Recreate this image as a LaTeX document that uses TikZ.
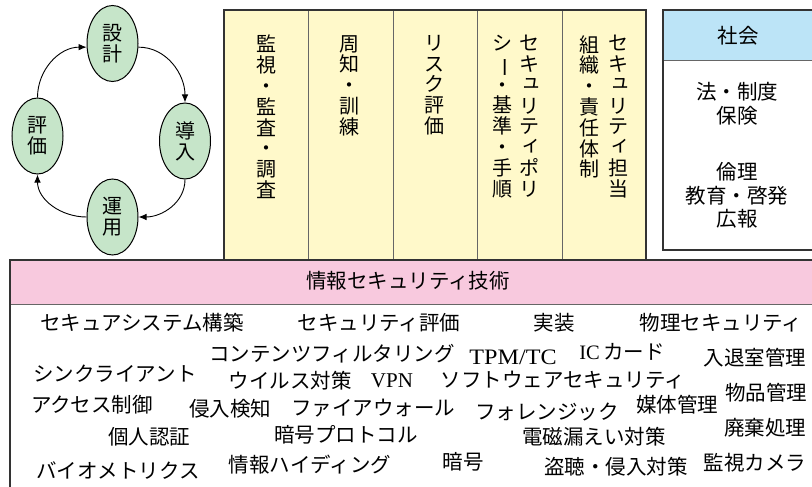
\documentclass[tikz,border=0pt]{standalone}
\usepackage{fontspec}
\setmainfont{Noto Sans CJK JP}
\newfontfamily\lat{Liberation Serif}
\usetikzlibrary{shapes.geometric,arrows.meta}
\definecolor{cyel}{HTML}{FFF9CA}
\definecolor{cblue}{HTML}{BCE4F7}
\definecolor{cpink}{HTML}{F8C9DE}
\definecolor{cgreen}{HTML}{C6E5C9}
\definecolor{cline}{HTML}{333333}
\newcommand\skv[1]{\raisebox{0.17em}{\hspace*{0.12em}#1\hspace*{-0.12em}}}
\newcommand\vbar{\rotatebox[origin=c]{-90}{ー}}
\tikzset{
  cyc/.style={ellipse, draw=black, line width=1pt, fill=cgreen, minimum width=51pt,
    minimum height=76pt, inner sep=0pt, align=center, font=\fontsize{20}{21}\selectfont},
  vt/.style={anchor=north, align=center, inner sep=0pt, font=\fontsize{20}{20.8}\selectfont},
  bt/.style={inner sep=0pt, font=\fontsize{20.5}{22}\selectfont},
  lt/.style={inner sep=0pt, font=\fontsize{21}{22}\selectfont\lat},
  arr/.style={-{Latex[length=8pt,width=6.5pt]}, line width=0.9pt},
  frame/.style={draw=cline, line width=1.3pt},
  divider/.style={draw=black!60, line width=0.9pt}
}
\begin{document}
\begin{tikzpicture}[x=1pt,y=1pt]
\useasboundingbox (0,0) rectangle (812,-487);
% cycle
\node[cyc] (sekkei) at (112.5,-43.5) {設\\計};
\node[cyc] (dounyu) at (185,-141) {導\\入};
\node[cyc] (unyou) at (112.5,-217) {運\\用};
\node[cyc] (hyouka) at (37.5,-136) {評\\価};
\draw[arr] (sekkei.-8) to[out=0,in=90] (dounyu.north);
\draw[arr] (dounyu.south) to[out=-90,in=0] (unyou.east);
\draw[arr] (unyou.west) to[out=180,in=-90] (hyouka.south);
\draw[arr] (hyouka.north) to[out=90,in=180] (sekkei.188);
% yellow columns
\fill[cyel] (224,-10) rectangle (646,-260);
\foreach \xx in {308,393,477,562} \draw[divider] (\xx,-10) -- (\xx,-260);
\draw[frame] (224,-10) rectangle (646,-260);
\node[vt] (c1) at (266,-35) {監\\視\\・\\監\\査\\・\\調\\査};
\node[vt] (c2) at (349,-35) {周\\知\\・\\訓\\練};
\node[vt] (c3) at (434,-35) {リ\\ス\\ク\\評\\価};
\node[vt] (c4a) at (529,-35) {セ\\キ\\\skv{ュ}\\リ\\テ\\\skv{ィ}\\ポ\\リ};
\node[vt] (c4b) at (502,-35) {シ\\\vbar\\・\\基\\準\\・\\手\\順};
\node[vt] (c5a) at (618,-35) {セ\\キ\\\skv{ュ}\\リ\\テ\\\skv{ィ}\\担\\当};
\node[vt] (c5b) at (589,-35) {組\\織\\・\\責\\任\\体\\制};
% society box
\fill[white] (663,-10) rectangle (830,-250);
\fill[cblue] (663,-10) rectangle (830,-60);
\draw[divider] (663,-60) -- (830,-60);
\draw[frame] (663,-10) rectangle (830,-250);
\node[bt] (shakai) at (738,-36) {社会};
\node[bt] (s1) at (737,-92) {法・制度};
\node[bt] (s2) at (737,-116) {保険};
\node[bt] (s3) at (737,-172) {倫理};
\node[bt] (s4) at (737,-196) {教育・啓発};
\node[bt] (s5) at (737,-219) {広報};
% technology box
\fill[cpink] (10,-260) rectangle (830,-304);
\draw[divider] (10,-304) -- (830,-304);
\draw[frame] (10,-260) rectangle (830,-500);
\node[bt] (head) at (408,-281) {情報セキュリティ技術};
\node[bt] (t1) at (142,-323) {セキュアシステム構築};
\node[bt] (t2) at (379,-323) {セキュリティ評価};
\node[bt] (t3) at (554,-323) {実装};
\node[bt] (t4) at (721,-323) {物理セキュリティ};
\node[bt] (t5) at (332,-354) {コンテンツフィルタリング};
\node[lt] (t6) at (513,-357) {\scalebox{1.15}[1.05]{TPM/TC}};
\node[bt] (t7) at (622,-352) {{\lat IC}\,カード};
\node[bt] (t8) at (755,-358) {入退室管理};
\node[bt] (t9) at (115,-374) {シンクライアント};
\node[bt] (t10) at (290,-381) {ウイルス対策};
\node[lt] (t11) at (392,-381) {VPN};
\node[bt] (t12) at (563,-380) {ソフトウェアセキュリティ};
\node[bt] (t13) at (766,-393) {物品管理};
\node[bt] (t14) at (92,-405) {アクセス制御};
\node[bt] (t15) at (230,-409) {侵入検知};
\node[bt] (t16) at (373,-408) {ファイアウォール};
\node[bt] (t17) at (547,-412) {フォレンジック};
\node[bt] (t18) at (677,-405) {媒体管理};
\node[bt] (t19) at (765,-428) {廃棄処理};
\node[bt] (t20) at (149,-437) {個人認証};
\node[bt] (t21) at (346,-435) {暗号プロトコル};
\node[bt] (t22) at (594,-437) {電磁漏えい対策};
\node[bt] (t23) at (118,-471) {バイオメトリクス};
\node[bt] (t24) at (310,-465) {情報ハイディング};
\node[bt] (t25) at (463,-462) {暗号};
\node[bt] (t26) at (616,-467) {盗聴・侵入対策};
\node[bt] (t27) at (755,-463) {監視カメラ};
\end{tikzpicture}
\end{document}
